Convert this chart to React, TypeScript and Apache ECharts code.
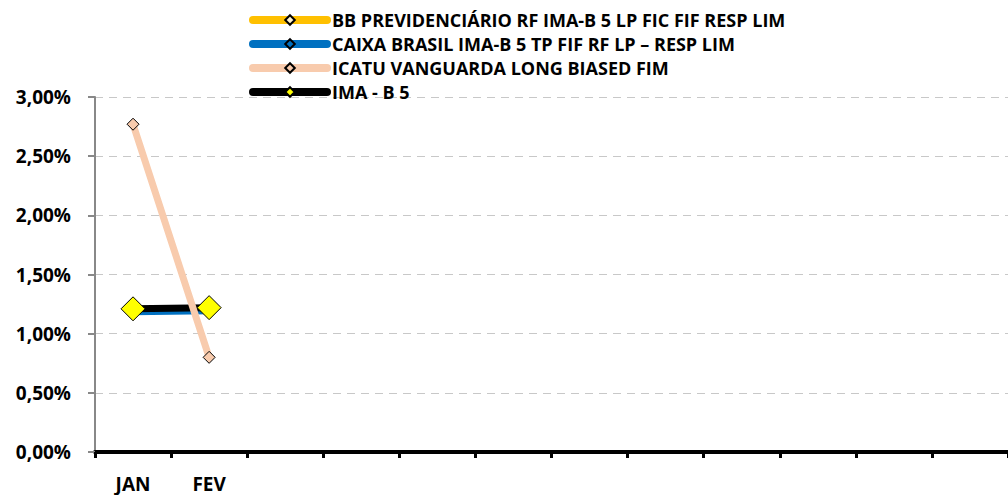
import React, { useEffect, useRef } from "react";
import * as echarts from "echarts";

const months = ["JAN", "FEV", "MAR", "ABR", "MAI", "JUN", "JUL", "AGO", "SET", "OUT", "NOV", "DEZ"];
const bbValues = [1.19, 1.2];
const caixaValues = [1.18, 1.19];
const icatuValues = [2.77, 0.8];
const imaValues = [1.21, 1.22];
const yTicks = [0, 0.5, 1, 1.5, 2, 2.5, 3];

const FONT = "Open Sans";

export default function App() {
  const ref = useRef<HTMLDivElement>(null);
  useEffect(() => {
    if (!ref.current) return;
    const chart = echarts.init(ref.current, null, { renderer: "svg" });
    const shown = Math.max(bbValues.length, caixaValues.length, icatuValues.length, imaValues.length);
    const mk = (name: string, data: number[], color: string, width: number, symFill: string, symSize: number, z: number) => ({
      name,
      type: "line",
      data,
      z,
      symbol: "diamond",
      symbolSize: symSize,
      lineStyle: { color, width, cap: "round" },
      itemStyle: { color: symFill, borderColor: "#000", borderWidth: 1 },
      emphasis: { disabled: true },
    });
    chart.setOption({
      animation: false,
      textStyle: { fontFamily: FONT },
      legend: {
        orient: "vertical",
        left: 249,
        top: 11,
        padding: 0,
        itemWidth: 74,
        itemHeight: 12,
        itemGap: 6,
        lineStyle: { width: 8, cap: "round" },
        textStyle: { fontFamily: FONT, fontWeight: "bold", fontSize: 18, color: "#000" },
        data: [
          "BB PREVIDENCIÁRIO RF IMA-B 5 LP FIC FIF RESP LIM",
          "CAIXA BRASIL IMA-B 5 TP FIF RF LP – RESP LIM",
          "ICATU VANGUARDA LONG BIASED FIM",
          "IMA - B 5",
        ],
      },
      grid: { left: 95, top: 97, width: 917, height: 355 },
      xAxis: {
        type: "category",
        data: months,
        boundaryGap: true,
        axisLine: { show: true, lineStyle: { color: "#000", width: 4 } },
        axisTick: { show: true, length: 6, lineStyle: { color: "#000", width: 3 } },
        axisLabel: {
          margin: 22,
          fontFamily: FONT,
          fontWeight: "bold",
          fontSize: 19,
          color: "#000",
          formatter: (v: string, i: number) => (i < shown ? v : ""),
        },
        splitLine: { show: false },
      },
      yAxis: {
        type: "value",
        min: yTicks[0],
        max: yTicks[yTicks.length - 1],
        interval: 0.5,
        axisLine: { show: true, lineStyle: { color: "#888", width: 2 } },
        axisTick: { show: true, length: 7, lineStyle: { color: "#888", width: 2 } },
        axisLabel: {
          margin: 24,
          fontFamily: FONT,
          fontWeight: "bold",
          fontSize: 19,
          color: "#000",
          formatter: (v: number) => v.toFixed(2).replace(".", ",") + "%",
        },
        splitLine: { show: true, lineStyle: { color: "#C8C8C8", type: [8, 6], width: 1 } },
      },
      series: [
        mk("BB PREVIDENCIÁRIO RF IMA-B 5 LP FIC FIF RESP LIM", bbValues, "#FFC000", 6, "#FFF2CC", 11, 2),
        mk("CAIXA BRASIL IMA-B 5 TP FIF RF LP – RESP LIM", caixaValues, "#0070C0", 6, "#0070C0", 11, 3),
        mk("IMA - B 5", imaValues, "#000000", 7, "#FFFF00", 24, 4),
        mk("ICATU VANGUARDA LONG BIASED FIM", icatuValues, "#F8CBAD", 7, "#F8CBAD", 12, 5),
      ],
    });
    return () => chart.dispose();
  }, []);
  return <div ref={ref} style={{ position: "absolute", left: 0, top: 0, width: 1008, height: 495 }} />;
}
